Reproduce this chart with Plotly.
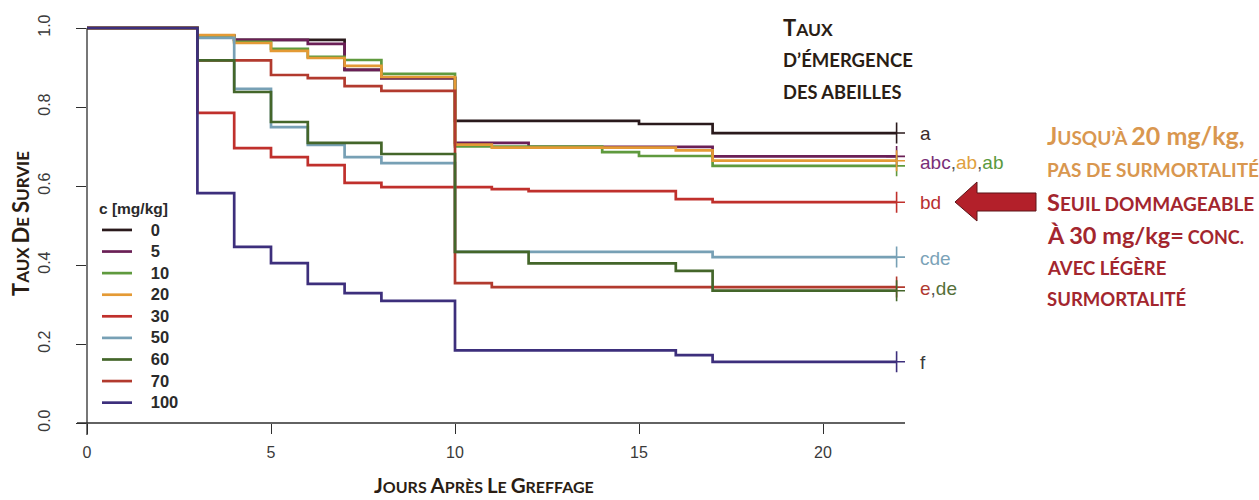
import plotly.graph_objects as go

# Kaplan-Meier style survival of larvae by concentration (mg/kg)
concentrations = ["0", "5", "10", "20", "30", "50", "60", "70", "100"]

days_0 = [0, 3, 4, 7, 8, 10, 15, 17, 22]
surv_0 = [1.0, 0.98, 0.970, 0.894, 0.873, 0.765, 0.757, 0.734, 0.734]

days_5 = [0, 3, 4, 6, 7, 8, 10, 12, 17, 22]
surv_5 = [1.0, 0.98, 0.970, 0.960, 0.894, 0.873, 0.709, 0.699, 0.675, 0.675]

days_10 = [0, 3, 4, 5, 6, 7, 8, 10, 14, 15, 17, 22]
surv_10 = [1.0, 0.98, 0.965, 0.947, 0.927, 0.919, 0.884, 0.700, 0.686, 0.676, 0.651, 0.651]

days_20 = [0, 3, 4, 5, 6, 7, 8, 10, 11, 16, 17, 22]
surv_20 = [1.0, 0.982, 0.962, 0.942, 0.924, 0.904, 0.876, 0.705, 0.697, 0.690, 0.664, 0.664]

days_30 = [0, 3, 4, 5, 6, 7, 8, 11, 12, 16, 17, 22]
surv_30 = [1.0, 0.785, 0.696, 0.673, 0.653, 0.608, 0.597, 0.592, 0.587, 0.567, 0.559, 0.559]

days_50 = [0, 3, 4, 5, 6, 7, 8, 10, 17, 22]
surv_50 = [1.0, 0.975, 0.846, 0.749, 0.704, 0.673, 0.658, 0.433, 0.420, 0.420]

days_60 = [0, 3, 4, 5, 6, 8, 10, 12, 16, 17, 22]
surv_60 = [1.0, 0.918, 0.838, 0.762, 0.709, 0.681, 0.433, 0.404, 0.385, 0.335, 0.335]

days_70 = [0, 3, 5, 6, 7, 8, 10, 11, 22]
surv_70 = [1.0, 0.918, 0.881, 0.873, 0.853, 0.841, 0.354, 0.344, 0.344]

days_100 = [0, 3, 4, 5, 6, 7, 8, 10, 16, 17, 22]
surv_100 = [1.0, 0.582, 0.446, 0.405, 0.352, 0.329, 0.309, 0.184, 0.172, 0.155, 0.155]

x_ticks = [0, 5, 10, 15, 20]
y_ticks = [0.0, 0.2, 0.4, 0.6, 0.8, 1.0]
y_tick_text = ["0.0", "0.2", "0.4", "0.6", "0.8", "1.0"]

colors = {
    "0": "#2a1a1c", "5": "#6a1f56", "10": "#5f9a3e", "20": "#e49a35",
    "30": "#c0302c", "50": "#77a0b5", "60": "#44662a", "70": "#b23a2e",
    "100": "#3d2f7c",
}
series = {
    "0": (days_0, surv_0), "5": (days_5, surv_5), "10": (days_10, surv_10),
    "20": (days_20, surv_20), "30": (days_30, surv_30), "50": (days_50, surv_50),
    "60": (days_60, surv_60), "70": (days_70, surv_70), "100": (days_100, surv_100),
}
draw_order = ["0", "5", "10", "20", "30", "50", "70", "60", "100"]

W, H = 1259, 500
L, R, T, B = 87, 354, 20, 77
PX_PER_DAY = 36.8
PX_PER_UNIT = 395.0
plot_w = W - L - R
plot_h = H - T - B
x_max = plot_w / PX_PER_DAY
y_max = plot_h / PX_PER_UNIT


def px(xp):
    return (xp - L) / plot_w


def py(yp):
    return (H - B - yp) / plot_h


fig = go.Figure()

NBSP = "\u00a0" * 3
for c in draw_order:
    d, s = series[c]
    fig.add_trace(go.Scatter(
        x=d, y=s, mode="lines", line=dict(shape="hv", color=colors[c], width=2.7),
        name=f"<b><span style='font-size:16.5px'>{NBSP}{c}</span></b>",
        legendrank=concentrations.index(c) + 1, hoverinfo="skip",
    ))

# censoring crosses at the end of follow-up
fig.add_trace(go.Scatter(
    x=[series[c][0][-1] for c in draw_order],
    y=[series[c][1][-1] for c in draw_order],
    mode="markers", showlegend=False, hoverinfo="skip",
    marker=dict(symbol="cross-thin", size=15,
                line=dict(width=1.6, color=[colors[c] for c in draw_order])),
))

AX = "#2e2e2e"
TICKFONT = dict(family="Liberation Sans", size=16, color="#3a3a3a")
fig.update_xaxes(range=[0, x_max], tickvals=x_ticks, ticks="outside", ticklen=10,
                 tickwidth=1.3, tickcolor=AX, showline=False, showgrid=False,
                 zeroline=False, ticklabelstandoff=5, tickfont=TICKFONT)
fig.update_yaxes(range=[0, y_max], tickvals=y_ticks, ticktext=y_tick_text, ticks="outside",
                 ticklen=10, tickwidth=1.3, tickcolor=AX, showline=False, showgrid=False,
                 zeroline=False, tickangle=-90, ticklabelstandoff=20, tickfont=TICKFONT)

# axis lines
fig.add_shape(type="line", xref="paper", yref="paper", x0=px(77), x1=px(905), y0=0, y1=0,
              line=dict(color=AX, width=1.3))
fig.add_shape(type="line", xref="paper", yref="paper", x0=0, x1=0, y0=py(435), y1=py(28),
              line=dict(color=AX, width=1.3))


def sc(text, big, small):
    """Small caps: first letter of each word at `big`, the rest at `small`."""
    words = []
    for w in text.split(" "):
        words.append(f"<span style='font-size:{big}px'>{w[0]}</span>"
                     f"<span style='font-size:{small}px'>{w[1:]}</span>")
    return " ".join(words)


FONT = "Lato"
DARK = "#2a1d14"
ORANGE = "#d9974f"
RED = "#a3262e"

annotations = []


def note(x, y, text, color, size=16, angle=0, xanchor="left", font=FONT):
    annotations.append(dict(
        xref="paper", yref="paper", x=px(x), y=py(y), text=text, showarrow=False,
        xanchor=xanchor, yanchor="middle", textangle=angle,
        font=dict(family=font, size=size, color=color),
    ))


# axis titles
note(20, 224, "<b>" + sc("TAUX DE SURVIE", 22, 17) + "</b>", DARK, angle=-90, xanchor="center")
note(484, 485, "<b>" + sc("JOURS APRÈS LE GREFFAGE", 20.5, 16) + "</b>", DARK,
     size=16, xanchor="center")

# heading over the end-point letters
note(781, 27, "<b>" + sc("TAUX", 22, 17.5) + "</b>", DARK)
note(781, 60, "<b>D’ÉMERGENCE</b>", DARK, size=18.5)
note(781, 92, "<b>DES ABEILLES</b>", DARK, size=18.3)

# group letters at the end of each curve
LF = "Liberation Sans"
LS = 19
note(918, 133, "a", "#3a2a2a", size=LS, font=LF)
note(918, 162, "<span style='color:#7a2f78'>abc</span>,<span style='color:#e0a040'>ab</span>,"
     "<span style='color:#5a9a40'>ab</span>", "#555555", size=LS, font=LF)
note(918, 202, "bd", "#b83030", size=LS, font=LF)
note(918, 258, "cde", "#7ba3b8", size=LS, font=LF)
note(918, 288, "<span style='color:#b03a30'>e</span>,<span style='color:#55703a'>de</span>",
     "#555555", size=LS, font=LF)
note(918, 362, "f", "#3a3a3a", size=LS, font=LF)

# commentary on the right
note(1045, 135, "<b><span style='font-size:24px'>J</span><span style='font-size:19px'>USQU’À</span>"
     " <span style='font-size:25px'>20 mg/kg,</span></b>", ORANGE)
note(1045, 169, "<b>PAS DE SURMORTALITÉ</b>", ORANGE, size=19)
note(1045, 202, "<b><span style='font-size:23.5px'>S</span><span style='font-size:19px'>EUIL DOMMAGEABLE</span></b>", RED)
note(1045, 235, "<b><span style='font-size:23.5px'>À 30 mg/kg=</span> <span style='font-size:18px'>CONC.</span></b>", RED)
note(1045, 268, "<b>AVEC LÉGÈRE</b>", RED, size=18.5)
note(1045, 299, "<b>SURMORTALITÉ</b>", RED, size=18.5)

# arrow pointing at the 30 mg/kg curve
pts = [(955, 202), (977, 182), (977, 193), (1036, 193), (1036, 211), (977, 211), (977, 221)]
path = "M " + " L ".join(f"{px(a):.5f},{py(b):.5f}" for a, b in pts) + " Z"
fig.add_shape(type="path", xref="paper", yref="paper", path=path,
              fillcolor="#b3202a", line=dict(color="#5c1418", width=1))

fig.update_layout(
    width=W, height=H, margin=dict(l=L, r=R, t=T, b=B),
    plot_bgcolor="white", paper_bgcolor="white",
    annotations=annotations,
    legend=dict(
        x=px(97), y=py(194), xanchor="left", yanchor="top",
        bgcolor="rgba(0,0,0,0)", borderwidth=0, tracegroupgap=0,
        title=dict(text="<b>c [mg/kg]</b>", font=dict(family=LF, size=15.5, color="#2a2a2a")),
        font=dict(family=LF, size=14.3, color="#2a2a2a"),
    ),
)

fig.write_html("out.html")
